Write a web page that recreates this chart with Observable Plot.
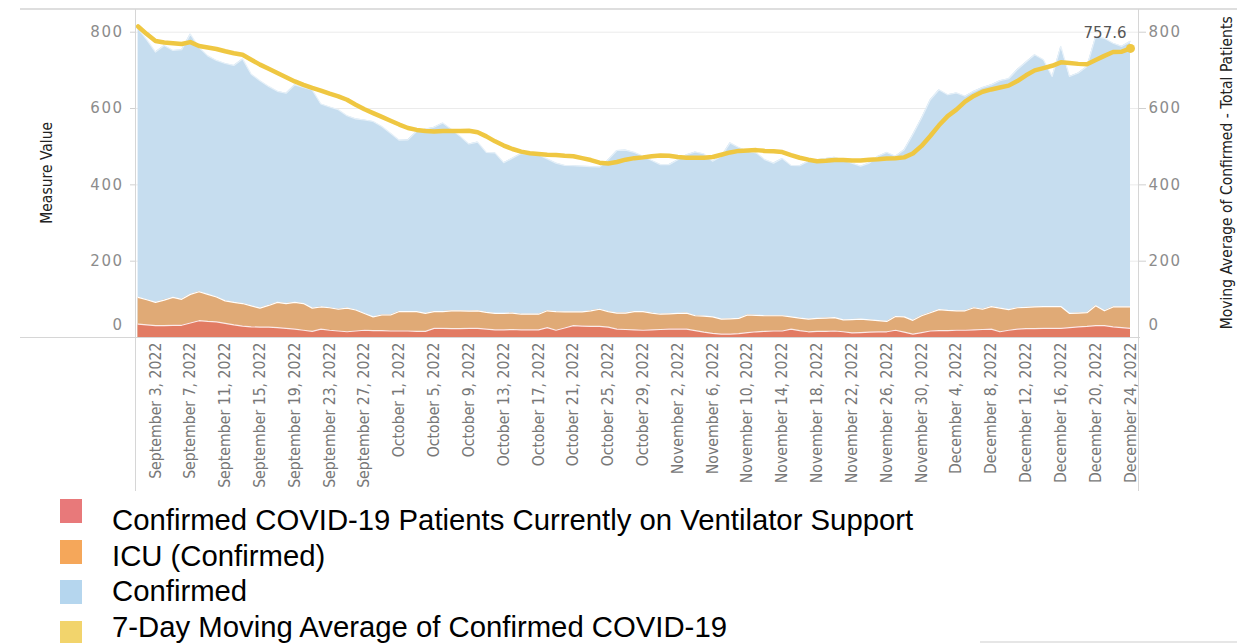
<!DOCTYPE html>
<html><head><meta charset="utf-8">
<script src="https://cdn.jsdelivr.net/npm/d3@7"></script>
<script src="https://cdn.jsdelivr.net/npm/@observablehq/plot@0.6"></script>
<style>
html,body{margin:0;padding:0;background:#fff;}
body{width:1237px;height:643px;overflow:hidden;position:relative;font-family:"Liberation Sans",Arial,sans-serif;}
#chart{position:absolute;left:0;top:0;}
.ln{position:absolute;background:#d6d6d6;}
.sw{position:absolute;left:60px;width:22px;height:24px;}
.lt{position:absolute;left:112px;font-size:29.3px;line-height:29px;color:#000;white-space:nowrap;}
#chart svg g[aria-label="y-axis tick label"] text{letter-spacing:1.5px;}
#chart svg g[aria-label="x-axis tick label"] text{font-stretch:condensed;}
</style></head><body>
<div id="chart"></div>
<div class="ln" style="left:20px;top:8px;width:1217px;height:2px;background:#dedede"></div>
<div class="ln" style="left:20px;top:337px;width:1120px;height:1px;"></div>
<div class="ln" style="left:135px;top:9px;width:1px;height:482px;"></div>
<div class="ln" style="left:1138px;top:9px;width:1px;height:482px;"></div>
<div class="ln" style="left:980px;top:641px;width:257px;height:2px;background:#e6e6e6"></div>
<div id="legend"></div>
<script>
const startDate = "2022-09-01";
// Confirmed patients (blue area)
const confirmed = [810,780,748,765,752,754,795,760,738,726,718,713,730,690,673,658,645,640,662,655,
649,612,604,597,581,573,570,566,553,535,517,518,540,546,551,562,545,527,507,512,
485,484,458,470,482,481,479,468,457,451,450,449,448,447,466,490,491,485,475,464,
453,453,466,479,486,481,462,475,510,498,488,484,466,457,469,451,450,462,466,469,
472,465,457,449,457,475,485,475,492,532,575,623,649,636,641,632,645,655,662,673,
678,702,722,741,728,684,763,684,693,710,789,784,771,763,776];
// ICU (Confirmed) (orange area)
const icu = [105,99,92,98,105,100,113,120,113,106,96,92,89,83,77,84,92,89,92,89,
77,80,78,74,77,72,63,54,59,59,68,68,68,63,68,68,70,70,69,70,
66,63,63,64,61,61,61,70,68,67,67,67,70,74,68,64,64,68,68,64,
61,62,63,64,57,56,54,48,49,50,59,58,57,57,57,54,51,48,50,51,
52,46,47,48,46,44,42,55,54,45,57,65,73,71,70,70,78,74,81,77,
73,78,79,80,81,81,81,63,64,65,83,70,80,80,80];
// Confirmed COVID-19 patients currently on ventilator support (red area)
const vent = [35,33,31,31,32,32,38,44,42,41,37,33,30,28,27,27,26,24,22,19,
16,22,19,17,15,17,19,18,18,17,17,17,16,16,24,24,23,23,24,24,
22,20,20,21,20,20,20,26,19,25,31,30,29,29,27,22,21,20,19,20,
21,22,22,22,18,14,11,9,9,10,13,15,16,17,17,22,18,15,16,16,
17,15,12,13,14,15,15,19,14,9,13,17,18,18,19,19,20,21,22,15,
19,22,23,23,24,24,24,26,28,29,31,31,28,26,24];
// 7-day moving average of confirmed total patients (yellow line)
const movingAvg = [815,795,777,773,771,769,774,764,760,756,750,745,741,728,715,704,693,682,671,662,
654,647,639,632,623,610,598,588,578,568,558,549,544,541,540,541,541,541,542,538,
527,514,503,494,487,483,481,479,478,476,475,470,465,458,456,460,466,470,472,475,
477,476,473,471,471,471,473,479,485,489,490,491,489,488,486,478,471,466,462,463,
465,465,464,464,466,467,469,470,472,482,502,528,556,580,597,618,633,644,650,655,
660,672,687,700,706,712,721,719,717,716,727,738,748,749,757.6];

const xTickLabels = ["2022-09-03","2022-09-07","2022-09-11","2022-09-15","2022-09-19","2022-09-23","2022-09-27",
"2022-10-01","2022-10-05","2022-10-09","2022-10-13","2022-10-17","2022-10-21","2022-10-25","2022-10-29",
"2022-11-02","2022-11-06","2022-11-10","2022-11-14","2022-11-18","2022-11-22","2022-11-26","2022-11-30",
"2022-12-04","2022-12-08","2022-12-12","2022-12-16","2022-12-20","2022-12-24"];
const yTicks = [0,200,400,600,800];

const legendItems = [
  {label:"Confirmed COVID-19 Patients Currently on Ventilator Support", color:"#e8797a"},
  {label:"ICU (Confirmed)", color:"#f5a75a"},
  {label:"Confirmed", color:"#b5d6ee"},
  {label:"7-Day Moving Average of Confirmed COVID-19", color:"#f2d46c"}
];

const start = new Date(startDate + "T00:00:00Z");
const rows = confirmed.map((v,i)=>({date:d3.utcDay.offset(start,i), confirmed:v, icu:icu[i], vent:vent[i], ma:movingAvg[i]}));
const xTicks = xTickLabels.map(s=>new Date(s+"T00:00:00Z"));
const last = rows[rows.length-1];

const numFont = "DejaVu Sans, sans-serif";
const narrow = "DejaVu Sans Condensed, DejaVu Sans, sans-serif";

const chart = Plot.plot({
  width:1237, height:492,
  marginLeft:136, marginRight:99, marginTop:31.7, marginBottom:155,
  style:{background:"transparent", overflow:"visible"},
  x:{type:"utc", domain:[rows[0].date, last.date], range:[137.6,1130]},
  y:{domain:[0,800], range:[337,31.7]},
  marks:[
    Plot.gridY(yTicks.filter(t=>t>0), {stroke:"#ebebeb", strokeOpacity:1}),
    Plot.areaY(rows,{x:"date", y:"confirmed", fill:"#c6ddef"}),
    Plot.lineY(rows,{x:"date", y:"confirmed", stroke:"#e6f0f8", strokeWidth:1.2}),
    Plot.areaY(rows,{x:"date", y:"icu", fill:"#e0aa76"}),
    Plot.lineY(rows,{x:"date", y:"icu", stroke:"#fff", strokeWidth:1.2}),
    Plot.areaY(rows,{x:"date", y:"vent", fill:"#e27b63"}),
    Plot.lineY(rows,{x:"date", y:"vent", stroke:"#fff", strokeWidth:1.2, strokeOpacity:0.85}),
    Plot.lineY(rows,{x:"date", y:"ma", stroke:"#efc742", strokeWidth:4.5, strokeLinejoin:"round", strokeLinecap:"round"}),
    Plot.dot([last],{x:"date", y:"ma", r:4.5, fill:"#efc742"}),
    Plot.text([last],{x:"date", y:"ma", text:d=>d.ma.toFixed(1), textAnchor:"end", dx:-4, dy:-15, fontSize:15, fill:"#555", fontFamily:numFont}),
    Plot.axisY(yTicks.filter(t=>t>0), {anchor:"left", tickSize:6, tickPadding:7, stroke:"#d0d0d0", fill:"#8c8c8c", fontSize:15, fontFamily:numFont, label:null}),
    Plot.axisY([0], {anchor:"left", tickSize:0, tickPadding:13, dy:-12, fill:"#8c8c8c", fontSize:15, fontFamily:numFont, label:null}),
    Plot.axisY(yTicks.filter(t=>t>0), {anchor:"right", tickSize:7, tickPadding:3, stroke:"#d0d0d0", fill:"#8c8c8c", fontSize:15, fontFamily:numFont, label:null}),
    Plot.axisY([0], {anchor:"right", tickSize:0, tickPadding:10, dy:-12, fill:"#8c8c8c", fontSize:15, fontFamily:numFont, label:null}),
    Plot.axisX(xTicks, {anchor:"bottom", tickRotate:-90, tickSize:0, tickPadding:5, tickFormat:d3.utcFormat("%B %-d, %Y"), fill:"#777", fontSize:15.7, fontFamily:narrow, label:null}),
    Plot.text(["Measure Value"], {frameAnchor:"left", textAnchor:"middle", rotate:-90, dx:-89, dy:-12, fontSize:15.5, fontFamily:narrow, fill:"#222"}),
    Plot.text(["Moving Average of Confirmed - Total Patients"], {frameAnchor:"right", textAnchor:"middle", rotate:-90, dx:89, dy:-12, fontSize:15.5, fontFamily:narrow, fill:"#222"})
  ]
});
document.getElementById("chart").appendChild(chart);

const legend = document.getElementById("legend");
const swTops = [499,540,580,621];
const txtTops = [505,541,576,612];
legendItems.forEach((it,i)=>{
  const s = document.createElement("div"); s.className="sw"; s.style.top=swTops[i]+"px"; s.style.background=it.color; legend.appendChild(s);
  const t = document.createElement("div"); t.className="lt"; t.style.top=txtTops[i]+"px"; t.textContent=it.label; legend.appendChild(t);
});
</script>
</body></html>
